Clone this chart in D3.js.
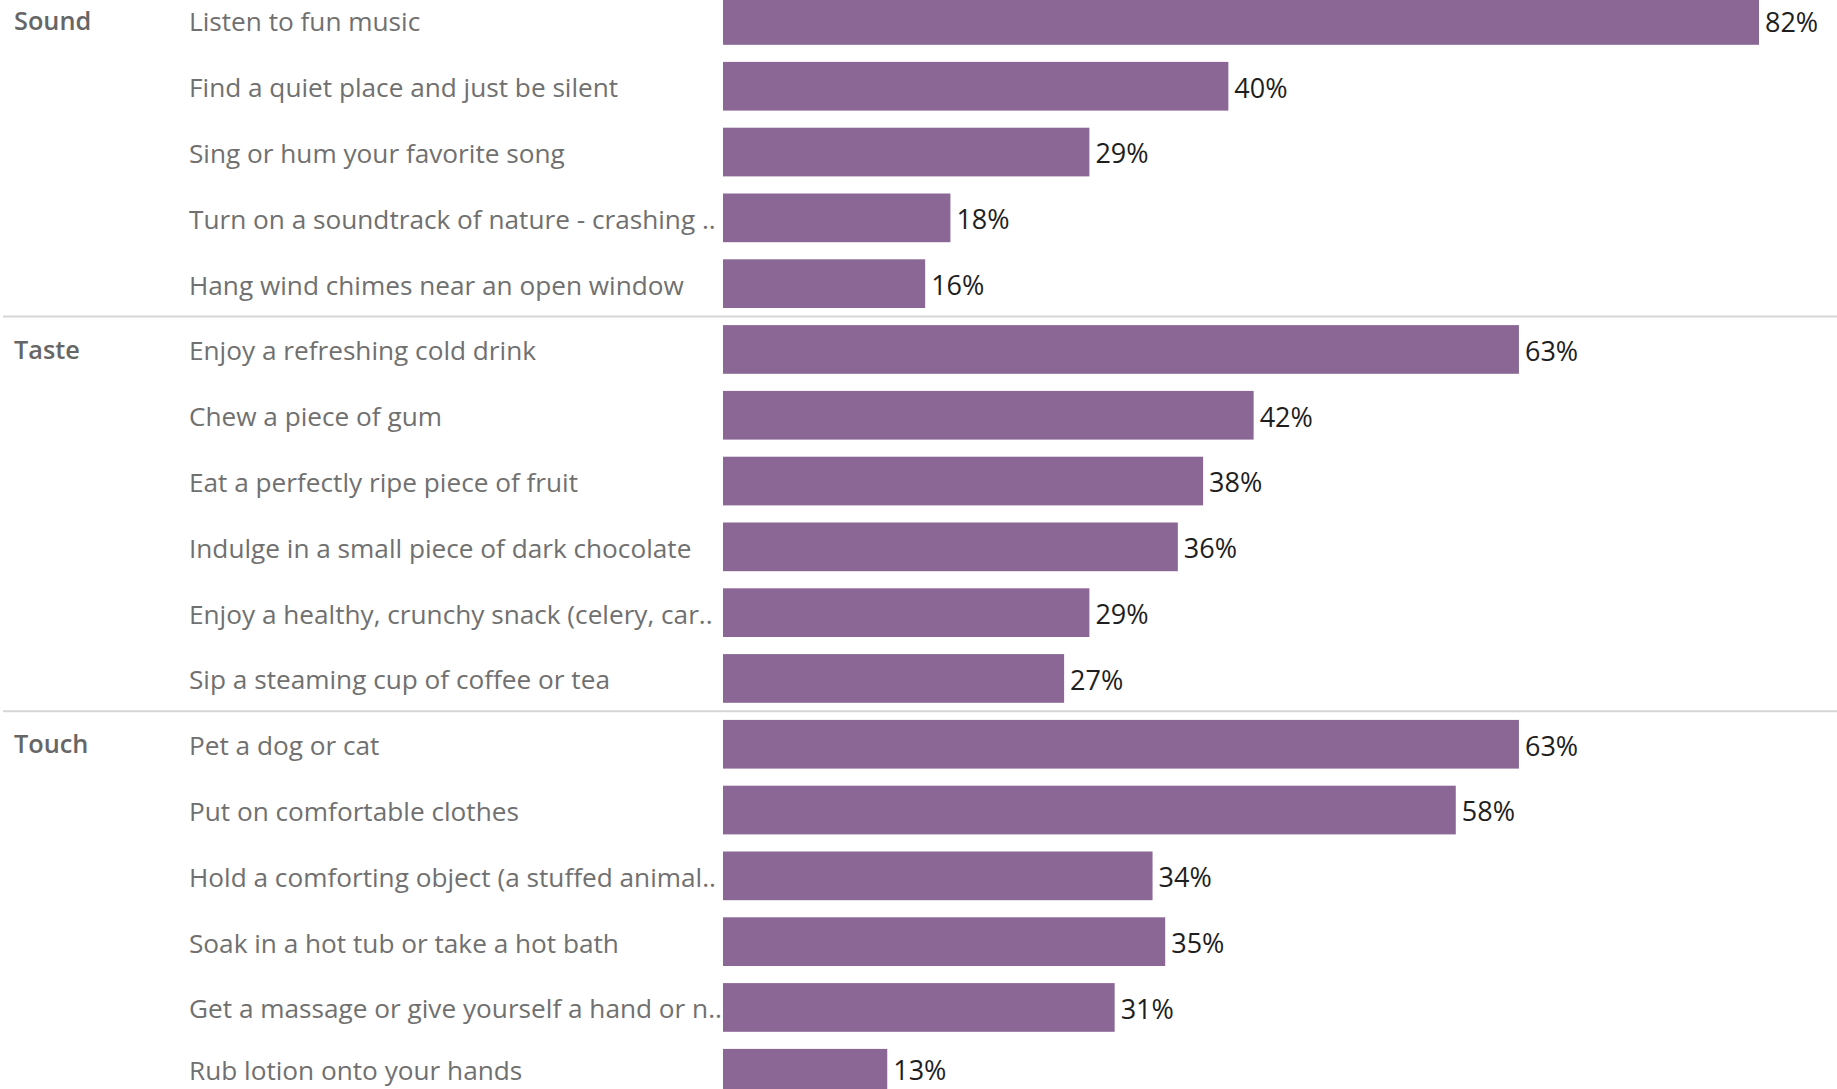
<!DOCTYPE html>
<html>
<head>
<meta charset="utf-8">
<script src="https://cdn.jsdelivr.net/npm/d3@7/dist/d3.min.js"></script>
<style>
  html, body { margin: 0; padding: 0; background: #ffffff; overflow: hidden; }
  svg { display: block; }
</style>
</head>
<body>
<svg id="chart" width="1837" height="1089"></svg>
<script>
// Sense groups, in display order
const groups = ["Sound", "Taste", "Touch"];

// Activity labels per group (as displayed, long ones truncated)
const soundItems = [
  "Listen to fun music",
  "Find a quiet place and just be silent",
  "Sing or hum your favorite song",
  "Turn on a soundtrack of nature - crashing ..",
  "Hang wind chimes near an open window"
];
const tasteItems = [
  "Enjoy a refreshing cold drink",
  "Chew a piece of gum",
  "Eat a perfectly ripe piece of fruit",
  "Indulge in a small piece of dark chocolate",
  "Enjoy a healthy, crunchy snack (celery, car..",
  "Sip a steaming cup of coffee or tea"
];
const touchItems = [
  "Pet a dog or cat",
  "Put on comfortable clothes",
  "Hold a comforting object (a stuffed animal..",
  "Soak in a hot tub or take a hot bath",
  "Get a massage or give yourself a hand or n..",
  "Rub lotion onto your hands"
];

// Share of respondents (%)
const soundValues = [82, 40, 29, 18, 16];
const tasteValues = [63, 42, 38, 36, 29, 27];
const touchValues = [63, 58, 34, 35, 31, 13];

const rows = [];
[[soundItems, soundValues], [tasteItems, tasteValues], [touchItems, touchValues]]
  .forEach(([items, vals], gi) => {
    items.forEach((label, i) => rows.push({
      group: groups[gi], first: i === 0, last: i === items.length - 1,
      label, value: vals[i], key: groups[gi] + "|" + i
    }));
  });

const svg = d3.select("#chart");
const W = 1837, H = 1089;

const step = 65.8, top0 = -12.45;
const y = d3.scaleBand()
  .domain(rows.map(d => d.key))
  .range([top0, top0 + rows.length * step])
  .paddingInner(0.26)
  .paddingOuter(0.13);

const x = d3.scaleLinear().domain([0, 100]).range([723, 723 + 1263.4]);

const FONT = "'Open Sans', 'Noto Sans', sans-serif";

// group separators
rows.forEach((d, i) => {
  if (d.last && i < rows.length - 1) {
    const yy = y(d.key) - y.step() * 0.13 + y.step();
    svg.append("line")
      .attr("x1", 3).attr("x2", W)
      .attr("y1", yy).attr("y2", yy)
      .attr("stroke", "#d6d6d6").attr("stroke-width", 2);
  }
});

// bars
svg.append("g").selectAll("rect").data(rows).join("rect")
  .attr("x", x(0))
  .attr("y", d => y(d.key))
  .attr("width", d => x(d.value) - x(0))
  .attr("height", y.bandwidth())
  .attr("fill", "#8b6796");

// value labels
const valueLabels = svg.append("g").selectAll("text").data(rows).join("text")
  .attr("x", d => x(d.value) + 6)
  .attr("y", d => y(d.key) + y.bandwidth() / 2)
  .attr("dy", "0.42em")
  .attr("font-family", FONT)
  .attr("font-size", 27)
  .attr("fill", "#1e1e1e")
  .text(d => d.value + "%");

// activity labels
const itemLabels = svg.append("g").selectAll("text").data(rows).join("text")
  .attr("x", 189)
  .attr("y", d => y(d.key) + y.bandwidth() / 2)
  .attr("dy", "0.42em")
  .attr("font-family", FONT)
  .attr("font-size", 26.2)
  .attr("fill", "#707070")
  .text(d => d.label);

// keep the bottom row's texts inside the view
[valueLabels, itemLabels].forEach(sel => sel.each(function () {
  const b = this.getBBox();
  const over = b.y + b.height - (H - 1);
  if (over > 0) d3.select(this).attr("y", +d3.select(this).attr("y") - over);
}));

// group labels
svg.append("g").selectAll("text").data(rows.filter(d => d.first)).join("text")
  .attr("x", 14)
  .attr("y", d => y(d.key) + y.bandwidth() / 2)
  .attr("dy", "0.36em")
  .attr("font-family", FONT)
  .attr("font-size", 25.3)
  .attr("font-weight", 600)
  .attr("fill", "#666666")
  .text(d => d.group);
</script>
</body>
</html>
